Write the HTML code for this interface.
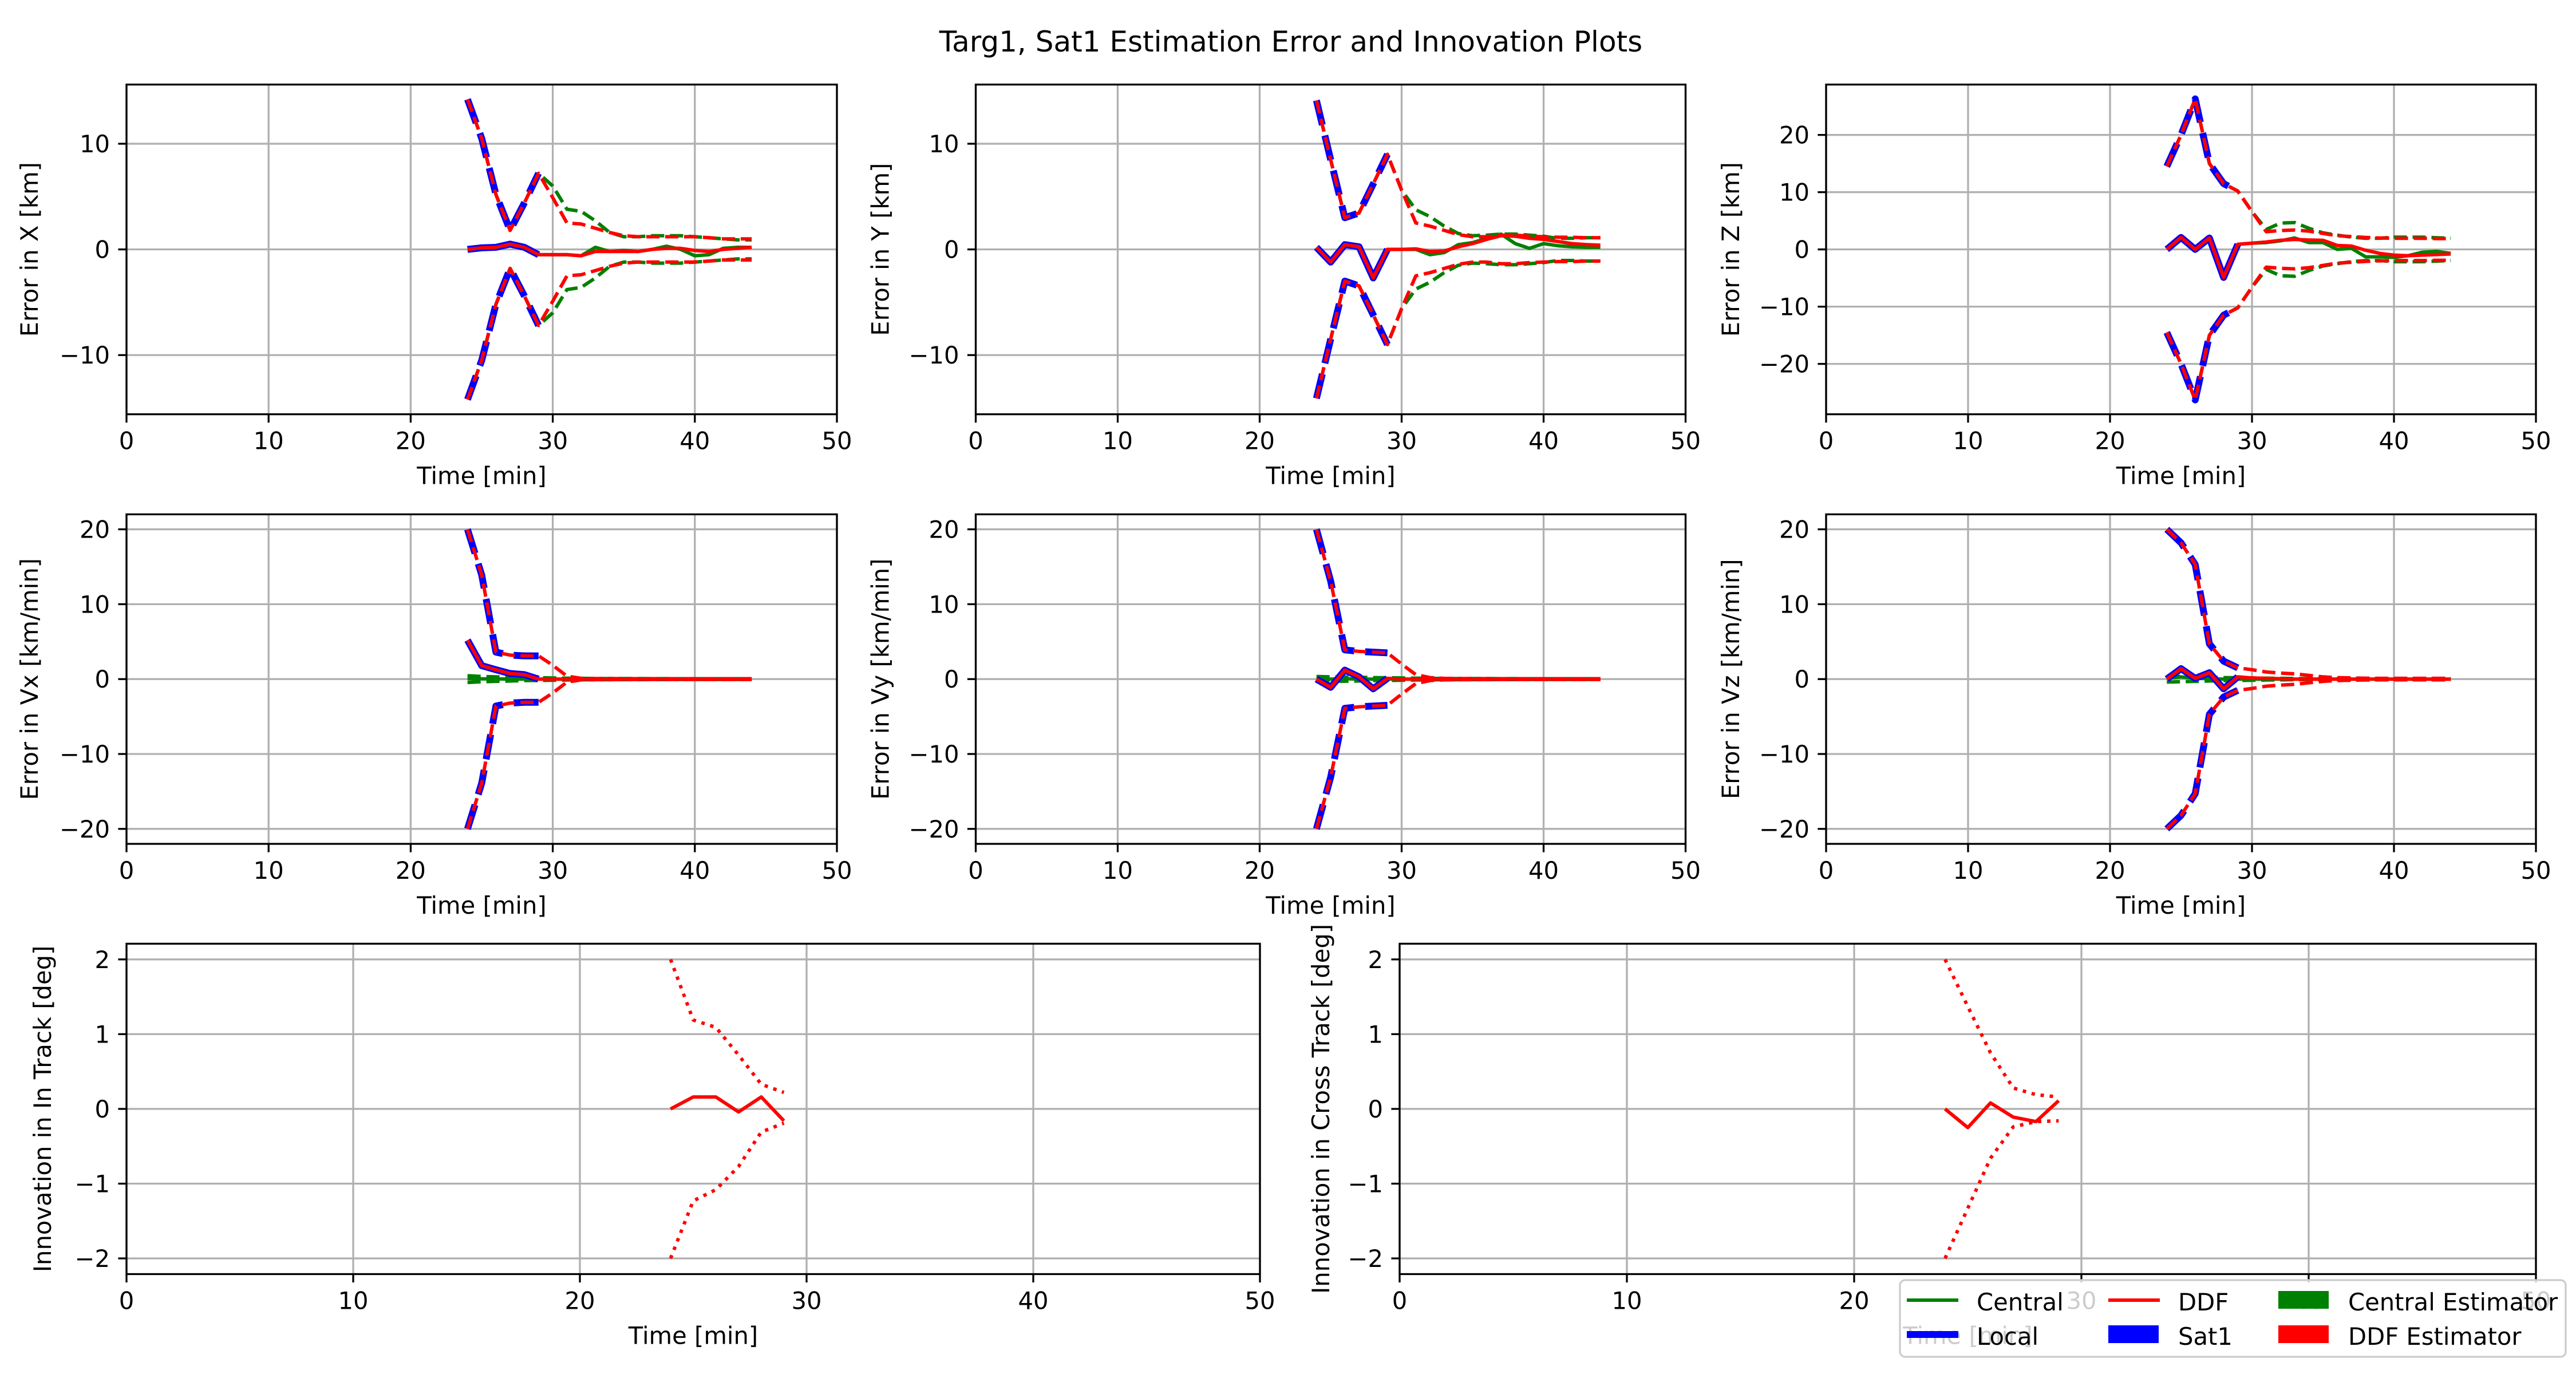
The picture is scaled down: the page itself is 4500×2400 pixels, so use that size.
<!DOCTYPE html>
<html><head><meta charset="utf-8"><title>Targ1, Sat1 Estimation Error and Innovation Plots</title>
<style>html,body{margin:0;padding:0;background:#fff}svg{display:block;font-family:"DejaVu Sans","Liberation Sans",sans-serif}</style>
</head><body>
<svg id="fig" xmlns="http://www.w3.org/2000/svg" width="4500" height="2400" viewBox="0 0 4500 2400">
<rect width="4500" height="2400" fill="#fff"/>
<text x="2255" y="90" font-size="50" text-anchor="middle">Targ1, Sat1 Estimation Error and Innovation Plots</text>
</svg>
<script>
const T = [24,25,26,27,28,29,30,31,32,33,34,35,36,37,38,39,40,41,42,43,44];
const TL = [24,25,26,27,28,29];
const xTicks = [0,10,20,30,40,50];

const xCentral = [0,0.15,0.2,0.5,0.2,-0.5,-0.5,-0.5,-0.6,0.2,-0.2,-0.1,-0.2,0,0.3,0,-0.6,-0.5,0.1,0.2,0.2];
const xCentralBound = [14.2,10.5,5.2,1.8,4.4,7.2,6.0,3.8,3.6,2.7,1.6,1.2,1.2,1.3,1.3,1.3,1.2,1.1,1.0,0.9,0.9];
const xLocal = [0,0.15,0.2,0.5,0.2,-0.5];
const xLocalBound = [14.2,10.5,5.2,1.8,4.4,7.2];
const xDdf = [0,0.15,0.2,0.5,0.2,-0.5,-0.5,-0.5,-0.6,-0.2,-0.2,-0.2,-0.2,0,0.1,0.1,-0.1,-0.2,0,0.1,0.2];
const xDdfBound = [14.2,10.5,5.2,1.8,4.4,7.2,4.9,2.5,2.4,2.0,1.6,1.3,1.2,1.2,1.2,1.2,1.2,1.1,1.0,1.0,1.0];

const yCentral = [0.2,-1.2,0.45,0.25,-2.7,0,0,0,-0.5,-0.3,0.45,0.65,1.05,1.45,0.55,0.1,0.55,0.35,0.25,0.2,0.2];
const yCentralBound = [14.1,8.5,3.0,3.45,6.2,9.0,5.6,3.75,3.1,2.2,1.5,1.3,1.35,1.45,1.45,1.35,1.25,1.05,1.05,1.1,1.1];
const yLocal = [0.2,-1.2,0.45,0.25,-2.7,0];
const yLocalBound = [14.1,8.5,3.0,3.45,6.2,9.0];
const yDdf = [0.2,-1.2,0.45,0.25,-2.7,0,0,0.05,-0.2,-0.15,0.25,0.55,0.95,1.3,1.25,1.05,0.95,0.75,0.55,0.45,0.4];
const yDdfBound = [14.1,8.5,3.0,3.45,6.2,9.0,5.6,2.5,2.2,1.8,1.4,1.2,1.2,1.35,1.35,1.25,1.2,1.15,1.15,1.1,1.1];

const zCentral = [0,2.1,0,2.0,-4.9,0.9,1.1,1.2,1.5,2.0,1.2,1.2,0,0.2,-1.3,-1.3,-1.4,-1.1,-0.5,-0.35,-0.7];
const zCentralBound = [14.5,20,26.3,15,11.5,10.2,6.6,3.5,4.6,4.7,3.7,2.9,2.5,2.15,1.95,1.95,2.15,2.15,2.15,2.05,1.95];
const zLocal = [0,2.1,0,2.0,-4.9,0.9];
const zLocalBound = [14.5,20,26.3,15,11.5,10.2];
const zDdf = [0,2.1,0,2.0,-4.9,0.9,1.1,1.3,1.6,1.75,1.65,1.6,0.7,0.6,-0.15,-0.7,-1.0,-1.1,-1.0,-0.9,-0.8];
const zDdfBound = [14.5,20,26.3,15,11.5,10.2,6.6,3.1,3.3,3.4,3.2,2.8,2.4,2.25,2.1,2.0,1.95,1.95,1.95,1.9,1.9];

const vxCentral = [0.05,0.03,0.02,0.01,0,0,0,0,0,0,0,0,0,0,0,0,0,0,0,0,0];
const vxCentralBound = [0.45,0.35,0.3,0.25,0.2,0.18,0.15,0.12,0.1,0.08,0.08,0.07,0.07,0.06,0.06,0.05,0.05,0.05,0.05,0.05,0.05];
const vxLocal = [5.2,1.8,1.25,0.75,0.6,0];
const vxLocalBound = [20,13.9,3.6,3.2,3.1,3.1];
const vxDdf = [5.2,1.8,1.25,0.75,0.6,0,0,0,0,0,0,0,0,0,0,0,0,0,0,0,0];
const vxDdfBound = [20,13.9,3.6,3.2,3.1,3.1,1.85,0.4,0.1,0.08,0.07,0.06,0.05,0.05,0.05,0.05,0.05,0.05,0.05,0.05,0.05];

const vyCentral = [0.05,0,0.05,0,0,0,0,0,0,0,0,0,0,0,0,0,0,0,0,0,0];
const vyCentralBound = [0.35,0.3,0.28,0.25,0.2,0.18,0.15,0.12,0.1,0.08,0.08,0.07,0.07,0.06,0.06,0.05,0.05,0.05,0.05,0.05,0.05];
const vyLocal = [0,-1.1,1.2,0.3,-1.3,0.1];
const vyLocalBound = [20,13.1,3.9,3.7,3.6,3.5];
const vyDdf = [0,-1.1,1.2,0.3,-1.3,0.1,0,0,0,0,0,0,0,0,0,0,0,0,0,0,0];
const vyDdfBound = [20,13.1,3.9,3.7,3.6,3.5,2.0,0.6,0.2,0.1,0.08,0.07,0.06,0.05,0.05,0.05,0.05,0.05,0.05,0.05,0.05];

const vzCentral = [0.1,0.3,0.1,0.05,0,0,0,0,0,0,0,0,0,0,0,0,0,0,0,0,0];
const vzCentralBound = [0.4,0.35,0.3,0.25,0.2,0.18,0.15,0.12,0.1,0.08,0.08,0.07,0.07,0.06,0.06,0.05,0.05,0.05,0.05,0.05,0.05];
const vzLocal = [0,1.4,0.1,0.85,-1.3,0.3];
const vzLocalBound = [20,18.2,15.3,4.7,2.4,1.5];
const vzDdf = [0,1.4,0.1,0.85,-1.3,0.3,0.15,0.1,0.05,0,0,0,0,0,0,0,0,0,0,0,0];
const vzDdfBound = [20,18.2,15.3,4.7,2.4,1.5,1.25,0.95,0.8,0.7,0.5,0.3,0.2,0.15,0.12,0.1,0.1,0.1,0.1,0.1,0.1];

const itInnov = [0,0.16,0.16,-0.04,0.16,-0.16];
const itUpper = [2.0,1.19,1.09,0.72,0.33,0.22];
const itLower = [-2.0,-1.23,-1.08,-0.77,-0.31,-0.19];
const ctInnov = [0,-0.25,0.08,-0.11,-0.17,0.11];
const ctUpper = [2.0,1.37,0.75,0.28,0.19,0.16];
const ctLower = [-2.0,-1.33,-0.66,-0.24,-0.17,-0.16];

const yTicksKm = [-10,0,10];
const yTicksZ = [-20,-10,0,10,20];
const yTicksV = [-20,-10,0,10,20];
const yTicksInn = [-2,-1,0,1,2];

const NS = 'http://www.w3.org/2000/svg';
const svg = document.getElementById('fig');
function mk(tag, attrs, parent){
  const e = document.createElementNS(NS, tag);
  for (const k in attrs) e.setAttribute(k, attrs[k]);
  (parent||svg).appendChild(e);
  return e;
}
function fmt(v){ return v < 0 ? '\u2212' + Math.abs(v) : String(v); }

function makeAxes(key, L, ylabel, yticks){
  const g = mk('g', {});
  
  
  const sx = t => L.x0 + (t - 0) / 50 * (L.x1 - L.x0);
  const sy = v => (L.y0 + L.y1) / 2 - v / L.ymax * (L.y1 - L.y0) / 2;
  xTicks.forEach(t => {
    const l = mk('line', {x1: sx(t), x2: sx(t), y1: L.y0, y2: L.y1, stroke: '#b0b0b0', 'stroke-width': 3.3}, g);
    
    
  });
  yticks.forEach(v => {
    const l = mk('line', {x1: L.x0, x2: L.x1, y1: sy(v), y2: sy(v), stroke: '#b0b0b0', 'stroke-width': 3.3}, g);
    
    
  });
  return {g, sx, sy, L, key, ylabel, yticks};
}
function finishAxes(A){
  const {g, sx, sy, L, key} = A;
  const fr = mk('rect', {x: L.x0, y: L.y0, width: L.x1 - L.x0, height: L.y1 - L.y0, fill: 'none', stroke: '#000', 'stroke-width': 3.3}, g);
  
  
  xTicks.forEach(t => {
    const tk = mk('line', {x1: sx(t), x2: sx(t), y1: L.y1, y2: L.y1 + 14.6, stroke: '#000', 'stroke-width': 3.3}, g);
    
    
    const tx = mk('text', {x: sx(t), y: L.y1 + 61, 'font-size': 41.7, 'text-anchor': 'middle'}, g);
    tx.textContent = fmt(t);
    
    
  });
  A.yticks.forEach(v => {
    const tk = mk('line', {x1: L.x0 - 14.6, x2: L.x0, y1: sy(v), y2: sy(v), stroke: '#000', 'stroke-width': 3.3}, g);
    
    
    const tx = mk('text', {x: L.x0 - 29, y: sy(v) + 15, 'font-size': 41.7, 'text-anchor': 'end'}, g);
    tx.textContent = fmt(v);
    
    
  });
  const xl = mk('text', {x: (L.x0 + L.x1) / 2, y: L.y1 + 122, 'font-size': 41.7, 'text-anchor': 'middle'}, g);
  xl.textContent = 'Time [min]';
  
  
  const lx = L.x0 - L.yl, ly = (L.y0 + L.y1) / 2;
  const yl = mk('text', {x: lx, y: ly, 'font-size': 41.7, 'text-anchor': 'middle', transform: 'rotate(-90 ' + lx + ' ' + ly + ')'}, g);
  yl.textContent = A.ylabel;
  
  
}
function series(A, ts, vs, color, w, dash, name, sign){
  const s = sign || 1;
  const pts = ts.map((t, i) => A.sx(t).toFixed(1) + ',' + A.sy(s * vs[i]).toFixed(1)).join(' ');
  const p = mk('polyline', {points: pts, fill: 'none', stroke: color, 'stroke-width': w, 'stroke-linejoin': 'round'}, A.g);
  if (dash) p.setAttribute('stroke-dasharray', dash);
  
  
  return p;
}
function errPanel(key, L, ylabel, yticks, c, cb, lo, lob, d, db){
  const A = makeAxes(key, L, ylabel, yticks);
  series(A, T, c, '#008000', 6, null, key + '-central-error');
  series(A, T, cb, '#008000', 6, '23 10', key + '-central-upper-bound');
  series(A, T, cb, '#008000', 6, '23 10', key + '-central-lower-bound', -1);
  series(A, TL, lo, '#0000ff', 12, null, key + '-local-error');
  series(A, TL, lob, '#0000ff', 12, '44 19', key + '-local-upper-bound');
  series(A, TL, lob, '#0000ff', 12, '44 19', key + '-local-lower-bound', -1);
  series(A, T, d, '#ff0000', 6, null, key + '-ddf-error');
  series(A, T, db, '#ff0000', 6, '23 10', key + '-ddf-upper-bound');
  series(A, T, db, '#ff0000', 6, '23 10', key + '-ddf-lower-bound', -1);
  finishAxes(A);
}
const C1 = [221, 1462], C2 = [1704.5, 2944.5], C3 = [3190, 4430];
const R1 = [147.7, 723.6], R2 = [898.4, 1474], R3 = [1648.4, 2225.5];
function lay(c, r, ymax, yl){ return {x0: c[0], x1: c[1], y0: r[0], y1: r[1], ymax: ymax, yl: yl}; }

errPanel('error-x', lay(C1, R1, 15.6, 155), 'Error in X [km]', yTicksKm, xCentral, xCentralBound, xLocal, xLocalBound, xDdf, xDdfBound);
errPanel('error-y', lay(C2, R1, 15.6, 152), 'Error in Y [km]', yTicksKm, yCentral, yCentralBound, yLocal, yLocalBound, yDdf, yDdfBound);
errPanel('error-z', lay(C3, R1, 28.8, 152), 'Error in Z [km]', yTicksZ, zCentral, zCentralBound, zLocal, zLocalBound, zDdf, zDdfBound);
errPanel('error-vx', lay(C1, R2, 22, 155), 'Error in Vx [km/min]', yTicksV, vxCentral, vxCentralBound, vxLocal, vxLocalBound, vxDdf, vxDdfBound);
errPanel('error-vy', lay(C2, R2, 22, 152), 'Error in Vy [km/min]', yTicksV, vyCentral, vyCentralBound, vyLocal, vyLocalBound, vyDdf, vyDdfBound);
errPanel('error-vz', lay(C3, R2, 22, 152), 'Error in Vz [km/min]', yTicksV, vzCentral, vzCentralBound, vzLocal, vzLocalBound, vzDdf, vzDdfBound);

function innPanel(key, L, ylabel, inn, up, lo){
  const A = makeAxes(key, L, ylabel, yTicksInn);
  series(A, TL, inn, '#ff0000', 6, null, key + '-innovation');
  series(A, TL, up, '#ff0000', 6, '6 10', key + '-upper-bound');
  series(A, TL, lo, '#ff0000', 6, '6 10', key + '-lower-bound');
  finishAxes(A);
}
innPanel('innovation-in-track', lay([221, 2201], R3, 2.21, 132), 'Innovation in In Track [deg]', itInnov, itUpper, itLower);
innPanel('innovation-cross-track', lay([2445, 4430], R3, 2.21, 123), 'Innovation in Cross Track [deg]', ctInnov, ctUpper, ctLower);

const lg = mk('g', {});


const lbox = mk('rect', {x: 3319, y: 2236, width: 1163, height: 134, rx: 9, fill: '#fff', 'fill-opacity': 0.8, stroke: '#cccccc', 'stroke-width': 3.3}, lg);


const legendEntries = [
  {label: 'Central', type: 'line', color: '#008000', w: 6, x: 3331, y: 2271},
  {label: 'Local', type: 'line', color: '#0000ff', w: 12, x: 3331, y: 2331},
  {label: 'DDF', type: 'line', color: '#ff0000', w: 6, x: 3683, y: 2271},
  {label: 'Sat1', type: 'patch', color: '#0000ff', x: 3683, y: 2331},
  {label: 'Central Estimator', type: 'patch', color: '#008000', x: 3980, y: 2271},
  {label: 'DDF Estimator', type: 'patch', color: '#ff0000', x: 3980, y: 2331}
];
legendEntries.forEach(e => {
  const eg = mk('g', {}, lg);
  
  
  if (e.type === 'line') {
    mk('line', {x1: e.x, x2: e.x + 90, y1: e.y, y2: e.y, stroke: e.color, 'stroke-width': e.w}, eg);
  } else {
    mk('rect', {x: e.x, y: e.y - 16, width: 88, height: 31, fill: e.color}, eg);
  }
  const t = mk('text', {x: e.x + 122, y: e.y + 18, 'font-size': 41.7}, eg);
  t.textContent = e.label;
});
</script>
</body></html>
